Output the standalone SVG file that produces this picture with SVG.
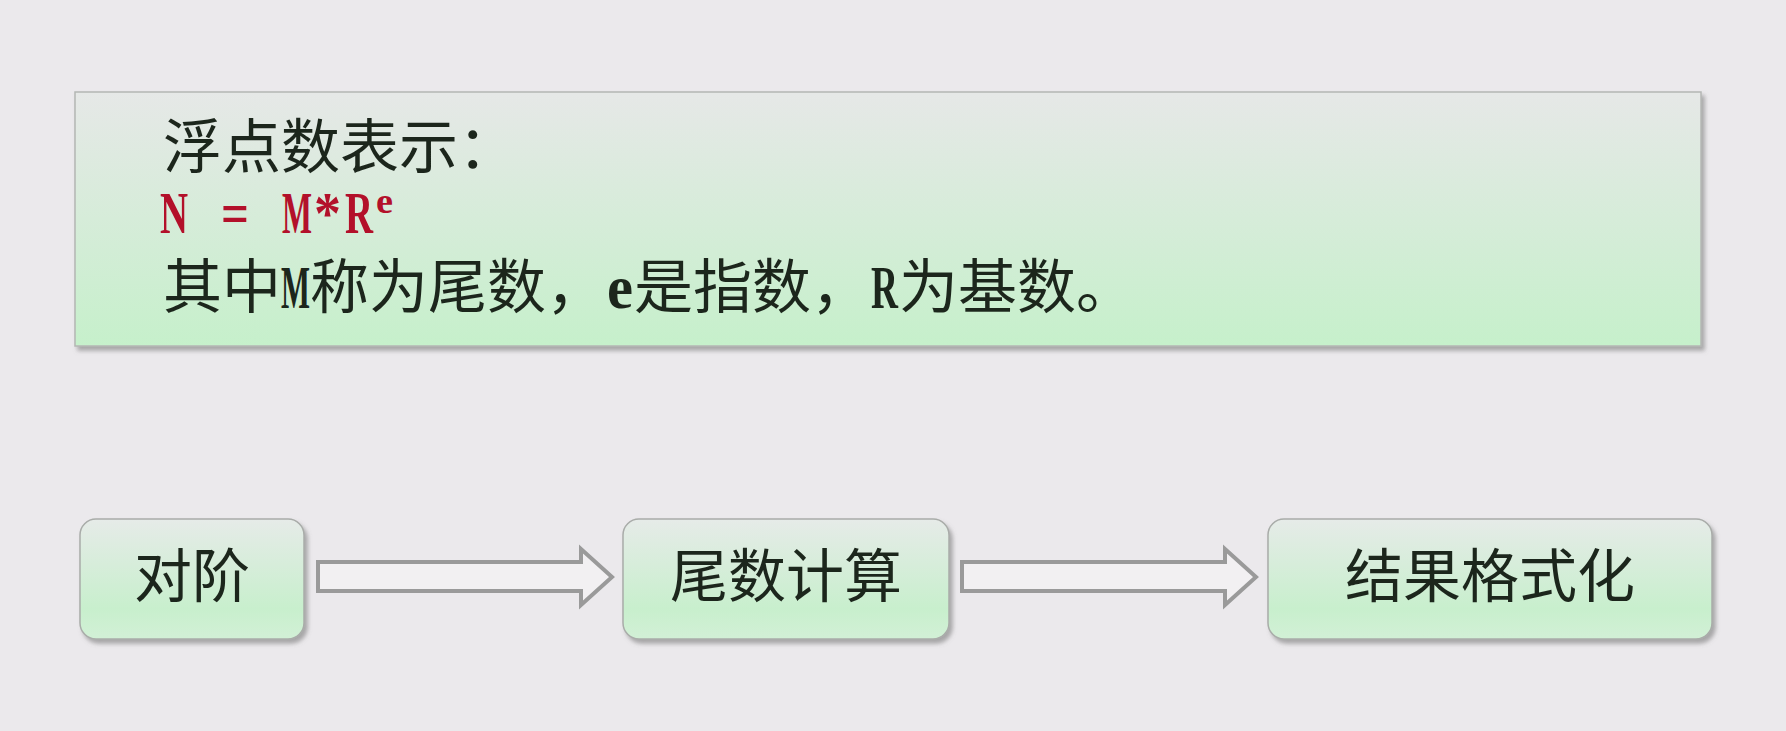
<svg xmlns="http://www.w3.org/2000/svg" width="1786" height="731" viewBox="0 0 1786 731">
  <style>
    .cjk { font-family: "Noto Sans CJK SC", sans-serif; fill: #1c261c; }
    .lat { font-family: "Liberation Serif", "Noto Sans CJK SC", serif; fill: #1c261c; font-weight: bold; }
    .red { font-family: "Liberation Serif", serif; fill: #b3102a; font-weight: bold; }
    .node { stroke: #a9aca9; stroke-width: 1.5; fill: url(#gNode); filter: url(#shadow); }
    .arrow { fill: #f2f0f2; stroke: #9a9a9a; stroke-width: 4; stroke-linejoin: miter; }
  </style>
  <defs>
    <linearGradient id="gBox" x1="0" y1="0" x2="0" y2="1">
      <stop offset="0" stop-color="#e6e8e7"/>
      <stop offset="1" stop-color="#c6f0cb"/>
    </linearGradient>
    <linearGradient id="gNode" x1="0" y1="0" x2="0" y2="1">
      <stop offset="0" stop-color="#e6ebe8"/>
      <stop offset="0.75" stop-color="#c8efcd"/>
      <stop offset="1" stop-color="#d2f0d6"/>
    </linearGradient>
    <filter id="shadow" x="-5%" y="-5%" width="112%" height="120%">
      <feDropShadow dx="3" dy="4" stdDeviation="2" flood-color="#6e6e6e" flood-opacity="0.55"/>
    </filter>
  </defs>
  <rect x="0" y="0" width="1786" height="731" fill="#ebe9ec"/>

  <g id="formula-box">
    <rect x="75" y="92" width="1626" height="254" fill="url(#gBox)" stroke="#b4b6b4" stroke-width="1.5" filter="url(#shadow)"/>
    <text class="cjk" x="163" y="168" font-size="59">浮点数表示：</text>
    <text class="red" y="233" font-size="60"><tspan x="160" textLength="28" lengthAdjust="spacingAndGlyphs">N</tspan><tspan x="221" textLength="28" lengthAdjust="spacingAndGlyphs">=</tspan><tspan x="282" textLength="30" lengthAdjust="spacingAndGlyphs">M</tspan><tspan x="314" textLength="27" lengthAdjust="spacingAndGlyphs">*</tspan><tspan x="345" textLength="28" lengthAdjust="spacingAndGlyphs">R</tspan><tspan x="376" y="213" font-size="36" textLength="17" lengthAdjust="spacingAndGlyphs">e</tspan></text>
    <text class="cjk" y="308" font-size="59"><tspan x="163">其中</tspan><tspan class="lat" x="281" textLength="29" lengthAdjust="spacingAndGlyphs" font-size="62">M</tspan><tspan x="310">称为尾数，</tspan><tspan class="lat" x="607" textLength="26" lengthAdjust="spacingAndGlyphs" font-size="62">e</tspan><tspan x="634">是指数，</tspan><tspan class="lat" x="871" textLength="27" lengthAdjust="spacingAndGlyphs" font-size="62">R</tspan><tspan x="899">为基数。</tspan></text>
  </g>

  <g id="node-duijie">
    <rect class="node" x="80" y="519" width="224" height="120" rx="16"/>
    <text class="cjk" x="192" y="597" font-size="58" text-anchor="middle">对阶</text>
  </g>
  <g id="node-weishu">
    <rect class="node" x="623" y="519" width="326" height="120" rx="16"/>
    <text class="cjk" x="786" y="597" font-size="58" text-anchor="middle">尾数计算</text>
  </g>
  <g id="node-jieguo">
    <rect class="node" x="1268" y="519" width="444" height="120" rx="16"/>
    <text class="cjk" x="1490" y="597" font-size="58" text-anchor="middle">结果格式化</text>
  </g>

  <g id="connectors">
    <polygon class="arrow" points="318,562 581,562 581,549 612,577 581,605 581,591 318,591"/>
    <polygon class="arrow" points="962,562 1225,562 1225,549 1256,577 1225,605 1225,591 962,591"/>
  </g>
</svg>
